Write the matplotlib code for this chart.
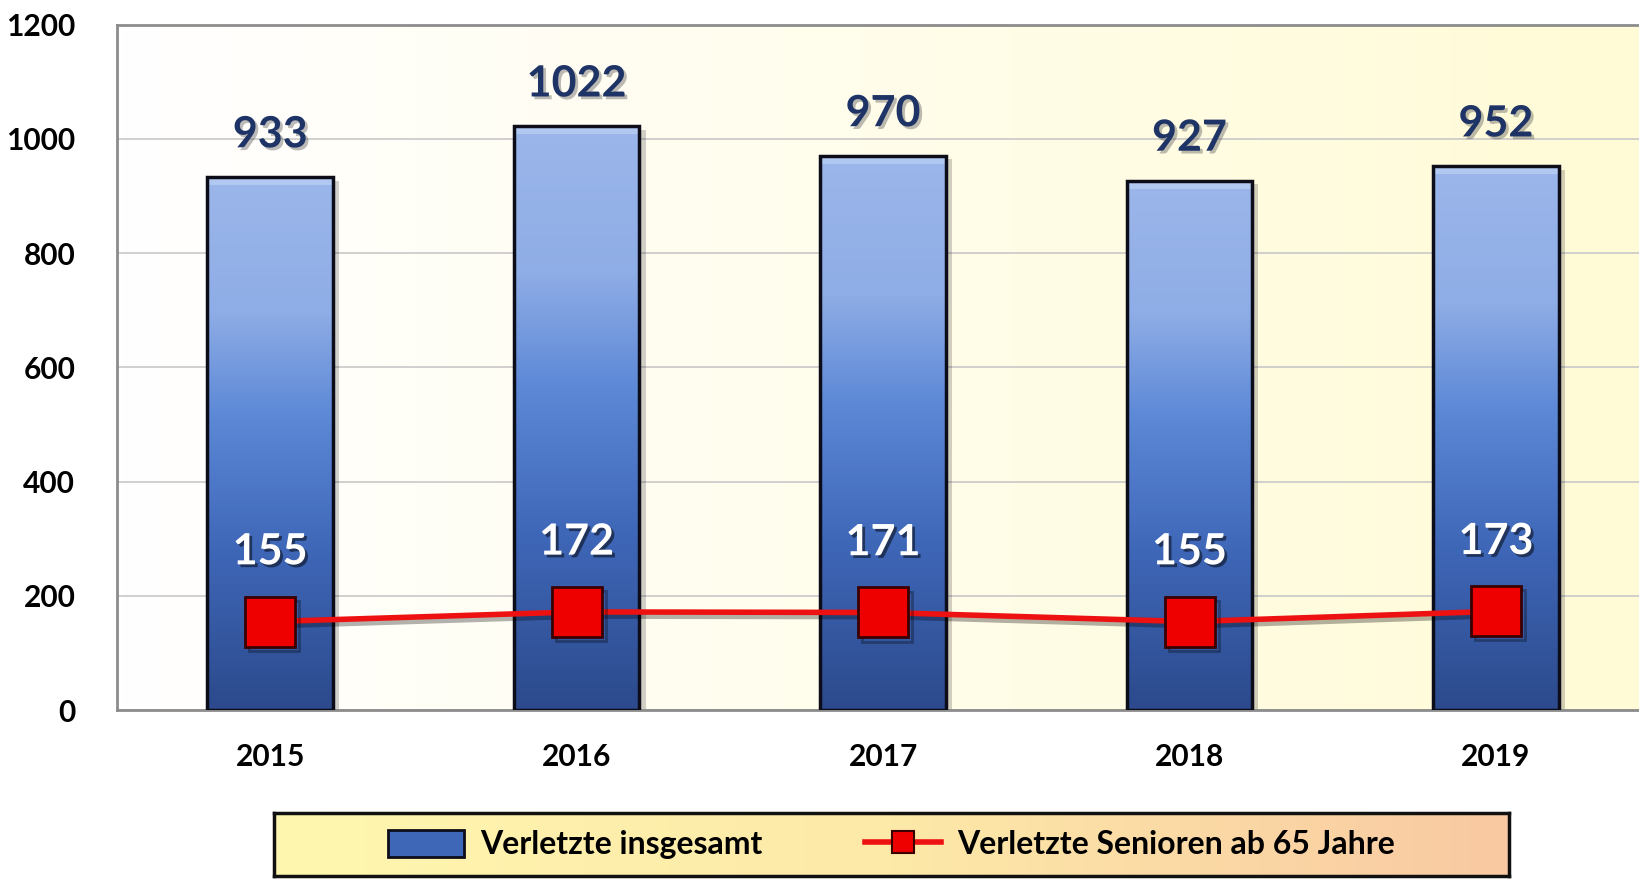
import numpy as np
import matplotlib
matplotlib.use("Agg")
import matplotlib.pyplot as plt
import matplotlib.patheffects as pe
from matplotlib.colors import LinearSegmentedColormap
from matplotlib.lines import Line2D
from matplotlib.patches import Rectangle

plt.rcParams['font.family'] = ['Lato', 'DejaVu Sans']
plt.rcParams['font.weight'] = 'bold'

# data
years = ['2015', '2016', '2017', '2018', '2019']
verletzte_gesamt = [933, 1022, 970, 927, 952]
verletzte_senioren = [155, 172, 171, 155, 173]
legend_labels = ['Verletzte insgesamt', 'Verletzte Senioren ab 65 Jahre']

fig = plt.figure(figsize=(16.4, 8.8), dpi=100)
ax = fig.add_axes([0.0713, 0.193, 0.9287, 0.779])

x = np.arange(len(years))

# background gradient white -> pale yellow
bg = LinearSegmentedColormap.from_list('bg', ['#ffffff', '#fffbd6'])
ax.imshow(np.linspace(0, 1, 256).reshape(1, -1), cmap=bg, aspect='auto',
          extent=[0, 1, 0, 1], transform=ax.transAxes, zorder=0)

ax.set_yticks(np.arange(0, 1201, 200))
ax.grid(axis='y', color='#c8c8c8', linewidth=1.2, zorder=1)
ax.set_axisbelow(True)
for s in ['left', 'bottom', 'top']:
    ax.spines[s].set_color('#8c8c8c')
    ax.spines[s].set_linewidth(2)
ax.spines['right'].set_visible(False)
ax.tick_params(length=0, labelsize=21.5)
ax.tick_params(axis='y', pad=30)
ax.tick_params(axis='x', pad=24)
ax.set_xticks(x)
ax.set_xticklabels(years)
for lab in ax.get_xticklabels() + ax.get_yticklabels():
    lab.set_fontweight('bold')

# bars with vertical gradient
bar_cmap = LinearSegmentedColormap.from_list(
    'bar', [(0, '#2c4a8c'), (0.3, '#3f67b8'), (0.55, '#5c88d6'),
            (0.75, '#8fade6'), (1, '#9bb6ea')])
bars = ax.bar(x, verletzte_gesamt, width=0.41, color='none',
              edgecolor='#0d0d1a', linewidth=2.5, zorder=3)
for b in bars:
    bx, by, bw, bh = b.get_x(), b.get_y(), b.get_width(), b.get_height()
    # shadow
    ax.add_patch(Rectangle((bx + 0.02, by), bw, bh - 6, color='#000000',
                           alpha=0.18, zorder=2, linewidth=0))
    im = ax.imshow(np.linspace(0, 1, 256).reshape(-1, 1), cmap=bar_cmap,
                   origin='lower', aspect='auto',
                   extent=[bx, bx + bw, by, by + bh], zorder=2.5)
    im.set_clip_path(b)
    # top bevel
    ax.add_patch(Rectangle((bx, by + bh - 14), bw, 14, color='#b8cdf2',
                           alpha=0.8, zorder=2.6, linewidth=0))
ax.set_xlim(-0.5, 4.47)
ax.set_ylim(0, 1200)

for xi, v in zip(x, verletzte_gesamt):
    ax.text(xi, v + 40, str(v), ha='center', va='bottom', fontsize=31,
            fontweight='bold', color='#1f3466', zorder=6,
            path_effects=[pe.withSimplePatchShadow(offset=(2, -2),
                                                   shadow_rgbFace='#555555', alpha=0.4)])

# senior line
line, = ax.plot(x, verletzte_senioren, color='#ee1111', linewidth=4,
                marker='s', markersize=36, markerfacecolor='#ee0000',
                markeredgecolor='#3a0000', markeredgewidth=2, zorder=5,
                path_effects=[pe.SimpleLineShadow(offset=(3, -3), alpha=0.3), pe.Normal()])

for xi, v in zip(x, verletzte_senioren):
    ax.text(xi, v + 88, str(v), ha='center', va='bottom', fontsize=31,
            fontweight='bold', color='white', zorder=6,
            path_effects=[pe.withSimplePatchShadow(offset=(2, -2),
                                                   shadow_rgbFace='#000000', alpha=0.5)])

# legend box with gradient
lax = fig.add_axes([0.167, 0.004, 0.753, 0.072])
leg_cmap = LinearSegmentedColormap.from_list('leg', ['#fff7b0', '#fde9a8', '#f9c9a2'])
lax.imshow(np.linspace(0, 1, 256).reshape(1, -1), cmap=leg_cmap, aspect='auto',
           extent=[0, 1, 0, 1])
lax.set_xticks([])
lax.set_yticks([])
for s in lax.spines.values():
    s.set_color('#111111')
    s.set_linewidth(2.5)

h_bar = Rectangle((0, 0), 1, 1, facecolor='#3f67b8', edgecolor='#0d0d1a', linewidth=2)
h_line = Line2D([0], [0], color='#ee1111', linewidth=4, marker='s', markersize=16,
                markerfacecolor='#ee0000', markeredgecolor='#3a0000', markeredgewidth=1.5)
lax.legend([h_bar, h_line], legend_labels, loc='center', ncol=2, frameon=False,
           prop={'size': 23, 'weight': 'bold'}, handlelength=2.4, handleheight=0.9,
           columnspacing=3.2, handletextpad=0.5)

fig.savefig('out.png', dpi=100)
